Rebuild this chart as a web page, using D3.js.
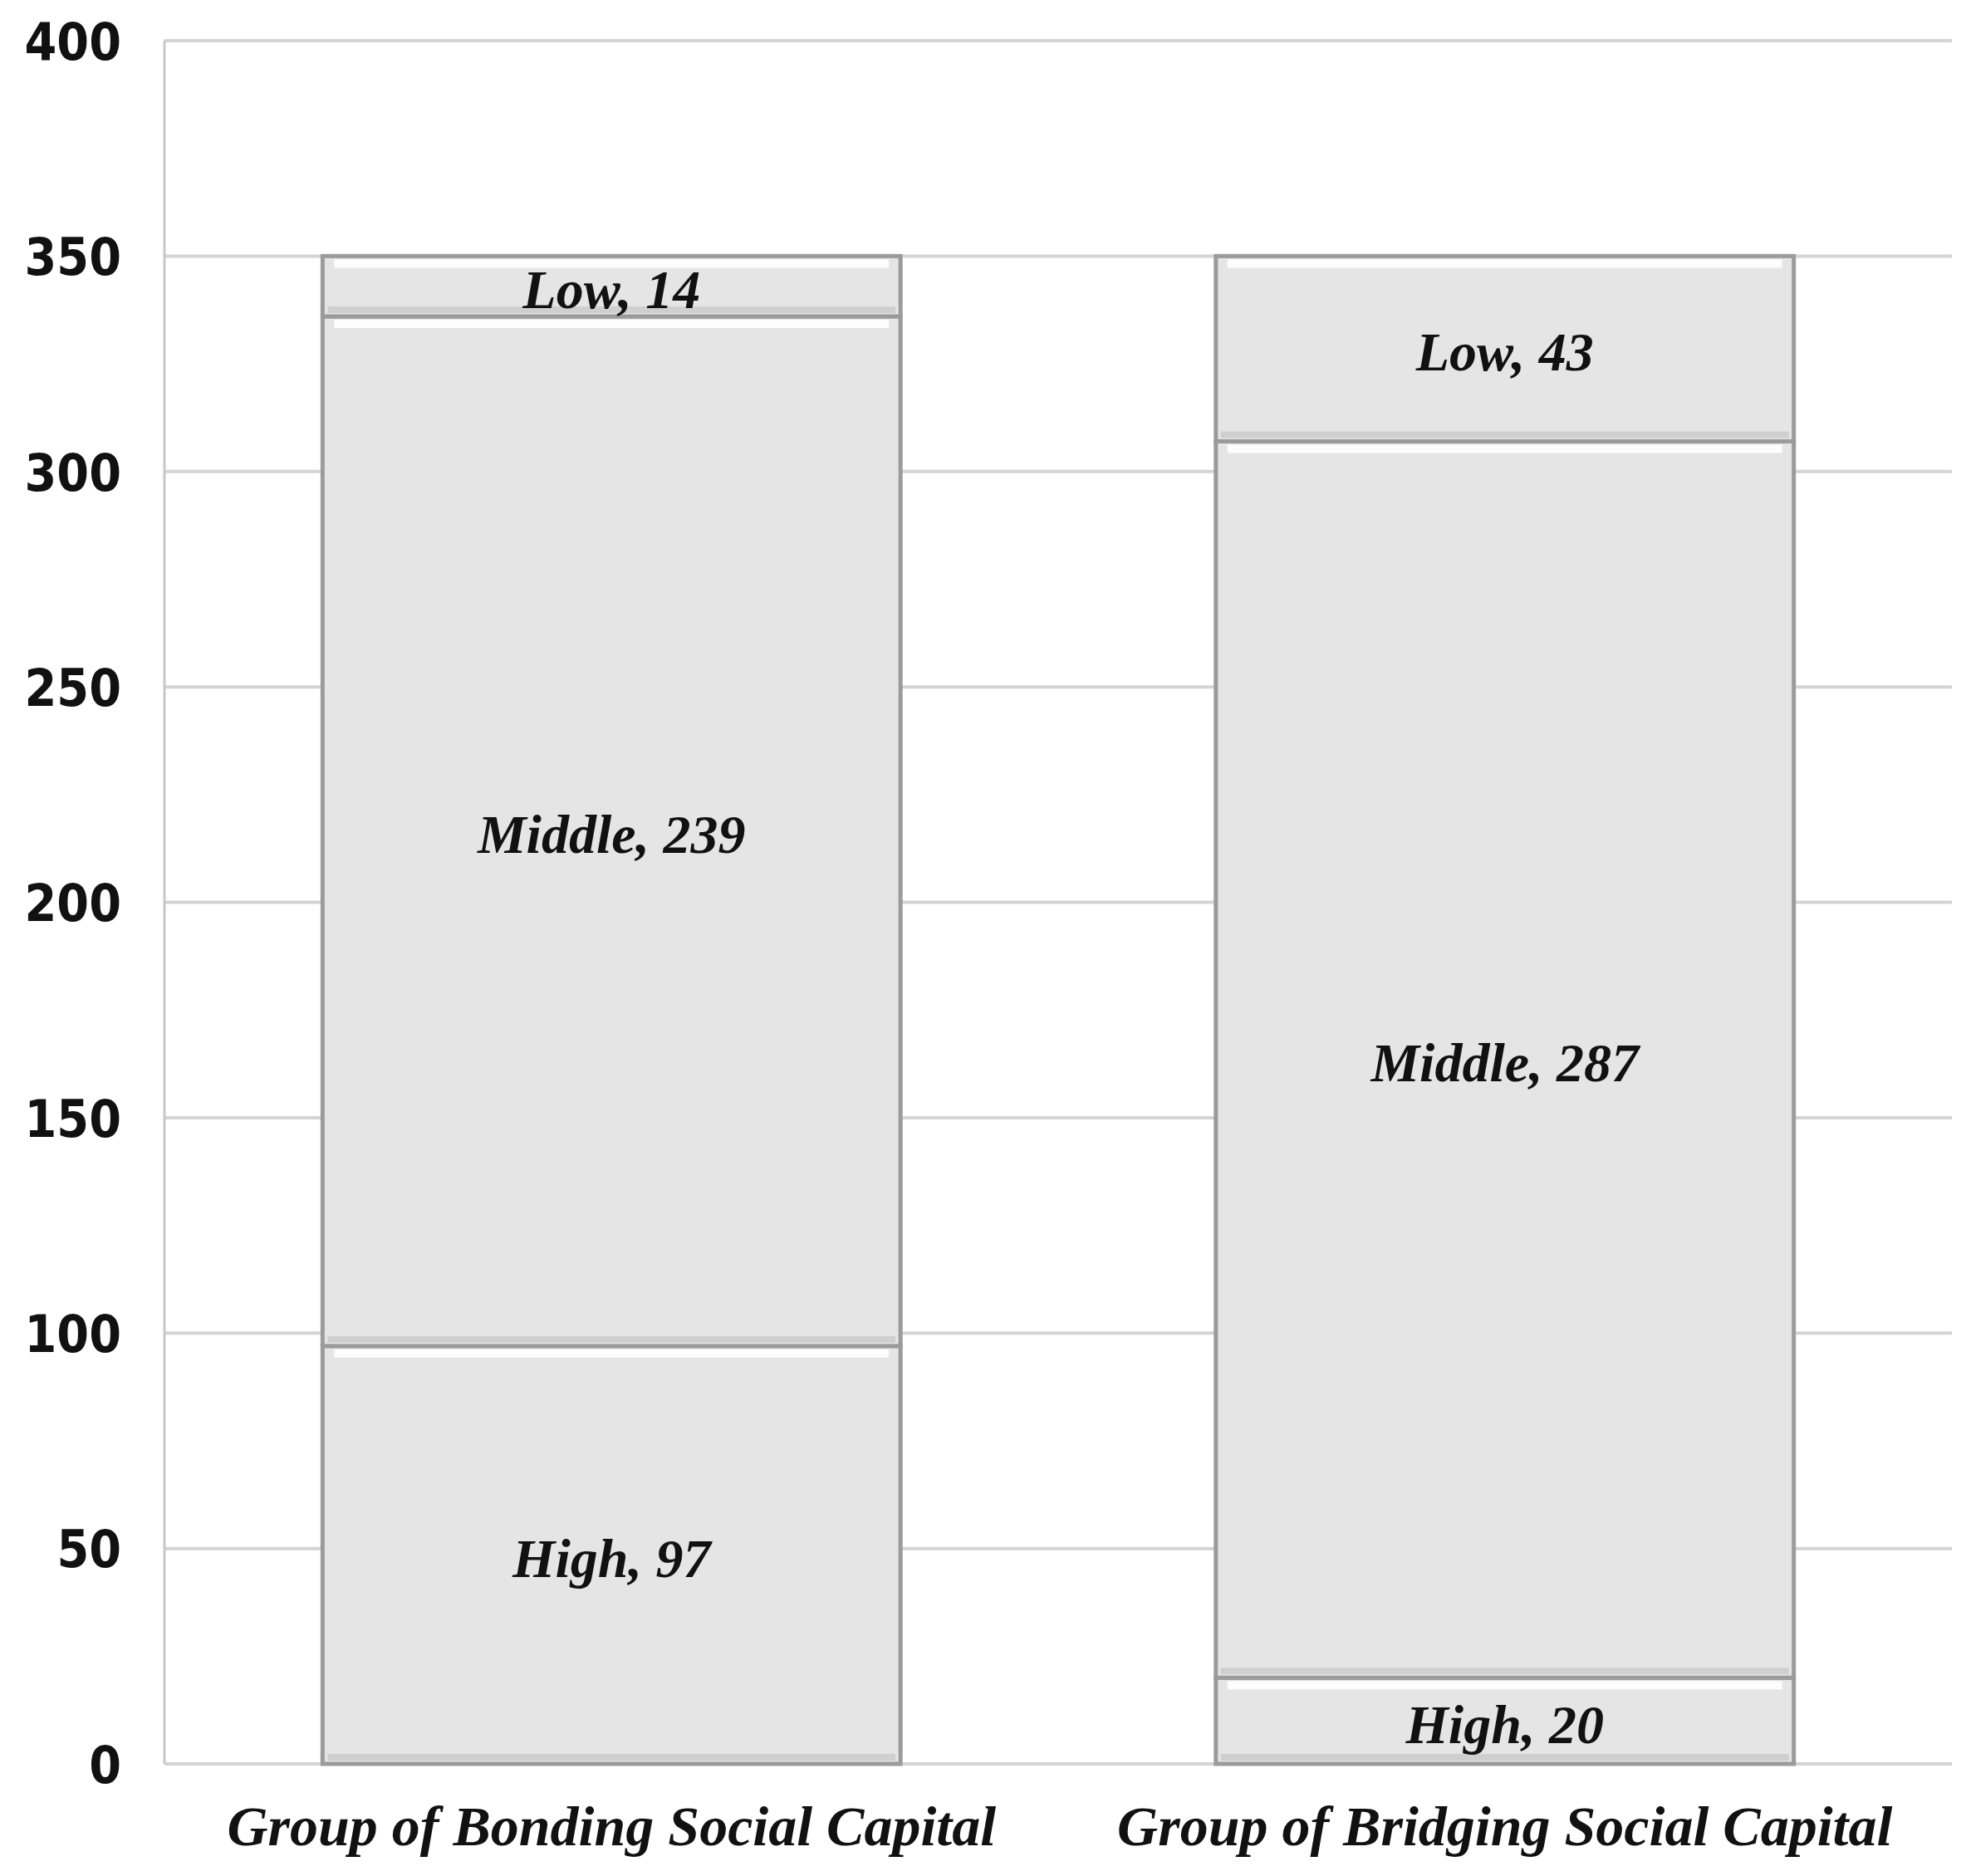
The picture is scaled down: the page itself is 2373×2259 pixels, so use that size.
<!DOCTYPE html>
<html><head><meta charset="utf-8">
<script src="https://cdn.jsdelivr.net/npm/d3@7"></script>
<style>body{margin:0;background:#fff}</style>
</head><body>
<div id="chart"></div>
<script>
var categories = ["Group of Bonding Social Capital", "Group of Bridging Social Capital"];
var levels = ["High", "Middle", "Low"];
var high = [97, 20];
var middle = [239, 287];
var low = [14, 43];
var yTicks = [0, 50, 100, 150, 200, 250, 300, 350, 400];

var width = 2373, height = 2259;
var margin = { top: 49, right: 23, bottom: 135, left: 198 };

var svg = d3.select("#chart").append("svg")
	.attr("width", width).attr("height", height);

var rows = categories.map(function(c, i) {
	return { cat: c, High: high[i], Middle: middle[i], Low: low[i] };
});
var stack = d3.stack().keys(levels)(rows);

var x = d3.scaleBand().domain(categories)
	.range([margin.left, width - margin.right])
	.paddingInner(0.353).paddingOuter(0.177);
var y = d3.scaleLinear().domain([0, 400])
	.range([height - margin.bottom, margin.top]);

// gridlines
svg.append("g").selectAll("line").data(yTicks).join("line")
	.attr("x1", margin.left).attr("x2", width - margin.right)
	.attr("y1", function(d) { return y(d); }).attr("y2", function(d) { return y(d); })
	.attr("stroke", "#d4d4d4").attr("stroke-width", 4);

svg.append("line")
	.attr("x1", margin.left).attr("x2", margin.left)
	.attr("y1", y(400)).attr("y2", y(0))
	.attr("stroke", "#c8c8c8").attr("stroke-width", 3);

// y axis labels
var yAxis = d3.axisLeft(y).tickValues(yTicks).tickSize(0).tickPadding(52);
var ya = svg.append("g").attr("transform", "translate(" + margin.left + ",0)").call(yAxis);
ya.select(".domain").remove();
ya.selectAll("text")
	.attr("fill", "#111")
	.style("font-family", "'Liberation Sans Narrow', 'DejaVu Sans', sans-serif")
	.style("font-stretch", "condensed")
	.style("font-weight", "bold")
	.style("font-size", "62px")
	.attr("dy", "0.36em");

// bars
var segs = [];
stack.forEach(function(layer) {
	layer.forEach(function(d) {
		segs.push({ key: layer.key, cat: d.data.cat, y0: d[0], y1: d[1], v: d.data[layer.key] });
	});
});

var g = svg.append("g").selectAll("g").data(segs).join("g");
g.append("rect")
	.attr("x", function(d) { return x(d.cat); })
	.attr("y", function(d) { return y(d.y1); })
	.attr("width", x.bandwidth())
	.attr("height", function(d) { return y(d.y0) - y(d.y1); })
	.attr("fill", "#e5e5e5")
	.attr("stroke", "#9b9b9b").attr("stroke-width", 5);
// bevel highlight on top
g.append("line")
	.attr("x1", function(d) { return x(d.cat) + 14; })
	.attr("x2", function(d) { return x(d.cat) + x.bandwidth() - 14; })
	.attr("y1", function(d) { return y(d.y1) + 9; })
	.attr("y2", function(d) { return y(d.y1) + 9; })
	.attr("stroke", "#fdfdfd").attr("stroke-width", 10);
// bevel shade at bottom
g.append("line")
	.attr("x1", function(d) { return x(d.cat) + 6; })
	.attr("x2", function(d) { return x(d.cat) + x.bandwidth() - 6; })
	.attr("y1", function(d) { return y(d.y0) - 8; })
	.attr("y2", function(d) { return y(d.y0) - 8; })
	.attr("stroke", "#cfcfcf").attr("stroke-width", 8);

g.append("text")
	.attr("x", function(d) { return x(d.cat) + x.bandwidth() / 2; })
	.attr("y", function(d) { return (y(d.y0) + y(d.y1)) / 2 + 4; })
	.attr("text-anchor", "middle").attr("dominant-baseline", "central")
	.style("font-family", "'Liberation Serif', 'Times New Roman', serif")
	.style("font-weight", "bold").style("font-style", "italic")
	.style("font-size", "66px").attr("fill", "#111")
	.text(function(d) { return d.key + ", " + d.v; });

// category labels
svg.append("g").selectAll("text").data(categories).join("text")
	.attr("x", function(d) { return x(d) + x.bandwidth() / 2; })
	.attr("y", 2222)
	.attr("text-anchor", "middle")
	.style("font-family", "'Liberation Serif', 'Times New Roman', serif")
	.style("font-weight", "bold").style("font-style", "italic")
	.style("font-size", "68px").attr("fill", "#111")
	.text(function(d) { return d; });
</script>
</body></html>
